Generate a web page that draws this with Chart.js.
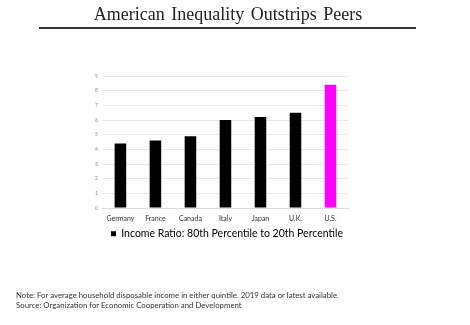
<!DOCTYPE html>
<html>
<head>
<meta charset="utf-8">
<script src="https://cdn.jsdelivr.net/npm/chart.js@4"></script>
<style>
  html, body { margin: 0; padding: 0; background: #fff; }
  #wrap { position: relative; width: 470px; height: 325px; overflow: hidden; }
  #titulo {
    position: absolute; left: 0; width: 456px; top: 4px;
    text-align: center; font-family: "Liberation Serif", "Times New Roman", serif;
    font-size: 18px; color: #222; word-spacing: 2px;
  }
  #linea { position: absolute; left: 39px; width: 377px; top: 27px; height: 2px; background: #333; }
  #nota {
    position: absolute; left: 16px; top: 291px;
    font-family: Lato, "Noto Sans", sans-serif; font-size: 7.8px; line-height: 9.5px; color: #333;
  }
  #grafico { position: absolute; left: 0; top: 0; }
</style>
</head>
<body>
<div id="wrap">
  <canvas id="grafico" width="470" height="325"></canvas>
  <div id="titulo">American Inequality Outstrips Peers</div>
  <div id="linea"></div>
  <div id="nota">Note: For average household disposable income in either quintile. 2019 data or latest available.<br>Source: Organization for Economic Cooperation and Development</div>
</div>
<script>
var paises = ['Germany', 'France', 'Canada', 'Italy', 'Japan', 'U.K.', 'U.S.'];
var ratio = [4.4, 4.6, 4.9, 6.0, 6.2, 6.5, 8.4];
var colores = ['#000000', '#000000', '#000000', '#000000', '#000000', '#000000', '#ff00ff'];
var serie = 'Income Ratio: 80th Percentile to 20th Percentile';

// corre la leyenda unos pixeles a la derecha
var moverLeyenda = {
  id: 'moverLeyenda',
  afterLayout: function (chart) {
    chart.legend.left += 8;
    chart.legend.right += 8;
  }
};

var ctx = document.getElementById('grafico').getContext('2d');
var miGrafico = new Chart(ctx, {
  type: 'bar',
  data: {
    labels: paises,
    datasets: [{
      label: serie,
      data: ratio,
      backgroundColor: colores,
      borderWidth: 0,
      barPercentage: 0.33,
      categoryPercentage: 1.0
    }]
  },
  options: {
    responsive: false,
    animation: false,
    layout: { padding: { left: 90, right: 122, top: 76, bottom: 76 } },
    plugins: {
      legend: {
        position: 'bottom',
        labels: {
          boxWidth: 5, boxHeight: 5, padding: 0,
          color: '#111',
          font: { family: 'Lato', size: 10.5 },
          generateLabels: function (chart) {
            return [{ text: serie, fillStyle: '#000', strokeStyle: '#000', lineWidth: 0, datasetIndex: 0 }];
          }
        }
      },
      tooltip: { enabled: false }
    },
    scales: {
      x: {
        grid: { display: false, drawTicks: false },
        border: { color: '#ddd' },
        ticks: { color: '#333', font: { family: 'Lato', size: 7 }, padding: 6 }
      },
      y: {
        min: 0, max: 9,
        grid: { color: '#e8e8e8', drawTicks: false },
        border: { display: false },
        ticks: { stepSize: 1, color: '#888', font: { family: 'Lato', size: 5 }, padding: 5 }
      }
    }
  },
  plugins: [moverLeyenda]
});
</script>
</body>
</html>
